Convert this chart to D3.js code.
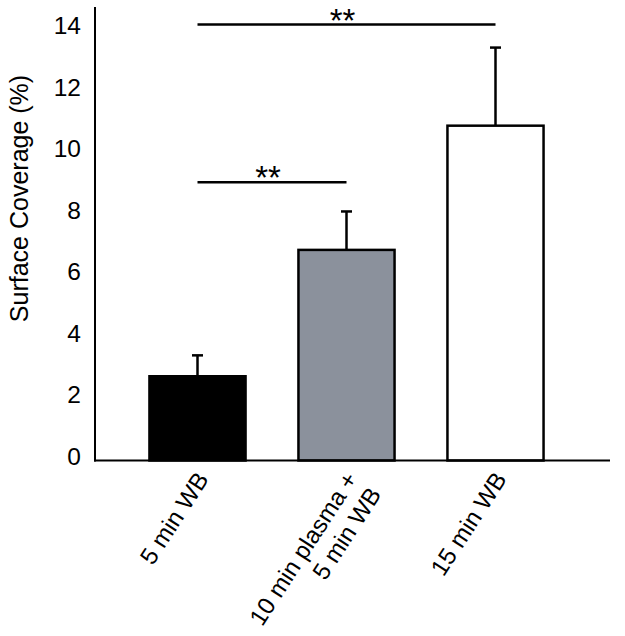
<!DOCTYPE html>
<html>
<head>
<meta charset="utf-8">
<script src="https://cdn.jsdelivr.net/npm/d3@7"></script>
<style>
  html, body { margin: 0; padding: 0; background: #fff; }
  svg { display: block; font-family: "Liberation Sans", Arial, sans-serif; }
</style>
</head>
<body>
<svg id="chart" width="625" height="636"></svg>
<script>
// ---- data ----
const categories = ["5 min WB", "10 min plasma +\n5 min WB", "15 min WB"];
const means = [2.74, 6.85, 10.89];
const errors = [0.68, 1.25, 2.54];
const yTicks = [0, 2, 4, 6, 8, 10, 12, 14];
const sigFrom = [0, 0];
const sigTo = [1, 2];
const sigLevel = [9.05, 14.18];
const sigLabel = ["**", "**"];
const barFills = ["#000000", "#8b919c", "#ffffff"];
const yTitle = "Surface Coverage (%)";

// ---- layout ----
const svg = d3.select("#chart");
const axisX0 = 95, axisX1 = 610, axisY0 = 460.5, axisTop = 7;

const x = d3.scaleBand()
  .domain(categories)
  .range([123, 570])
  .paddingInner(0.355)
  .paddingOuter(0.1775);

const y = d3.scaleLinear().domain([0, 14.75]).range([axisY0, axisTop]);

const cx = i => x(categories[i]) + x.bandwidth() / 2;

// bars
svg.append("g").selectAll("rect")
  .data(means)
  .join("rect")
  .attr("x", (d, i) => x(categories[i]))
  .attr("y", d => y(d))
  .attr("width", x.bandwidth())
  .attr("height", d => y(0) - y(d))
  .attr("fill", (d, i) => barFills[i])
  .attr("stroke", "#000")
  .attr("stroke-width", 2.5);

// error bars (upper only)
const eg = svg.append("g").attr("stroke", "#000").attr("stroke-width", 2.5);
means.forEach((m, i) => {
  const c = cx(i);
  eg.append("line").attr("x1", c).attr("x2", c).attr("y1", y(m)).attr("y2", y(m + errors[i]));
  eg.append("line").attr("x1", c - 5.5).attr("x2", c + 5.5).attr("y1", y(m + errors[i])).attr("y2", y(m + errors[i]));
});

// axes lines
svg.append("line").attr("x1", axisX0).attr("x2", axisX0).attr("y1", axisTop).attr("y2", axisY0 + 1)
  .attr("stroke", "#000").attr("stroke-width", 2);
svg.append("line").attr("x1", axisX0 - 1).attr("x2", axisX1).attr("y1", axisY0).attr("y2", axisY0)
  .attr("stroke", "#000").attr("stroke-width", 2);

// y tick labels
svg.append("g").selectAll("text")
  .data(yTicks)
  .join("text")
  .attr("x", 81)
  .attr("y", d => y(d) - 4.5)
  .attr("text-anchor", "end")
  .attr("dominant-baseline", "central")
  .attr("font-size", 24.5)
  .attr("fill", "#000")
  .text(d => d);

// y title
svg.append("text")
  .attr("transform", "translate(19,198.5) rotate(-90)")
  .attr("text-anchor", "middle")
  .attr("dominant-baseline", "central")
  .attr("font-size", 25)
  .attr("fill", "#000")
  .text(yTitle);

// category labels
const angle = -57, lineH = 28;
categories.forEach((cat, i) => {
  const g = svg.append("g")
    .attr("transform", `translate(${cx(i) + 12},479) rotate(${angle})`);
  cat.split("\n").forEach((line, k) => {
    g.append("text")
      .attr("x", 0)
      .attr("y", k * lineH)
      .attr("text-anchor", "end")
      .attr("font-size", 24)
      .attr("fill", "#000")
      .text(line);
  });
});

// significance brackets
const sg = svg.append("g");
sigLevel.forEach((lv, i) => {
  const xa = cx(sigFrom[i]), xb = cx(sigTo[i]);
  sg.append("line").attr("x1", xa).attr("x2", xb).attr("y1", y(lv)).attr("y2", y(lv))
    .attr("stroke", "#000").attr("stroke-width", 2.5);
  sg.append("text")
    .attr("x", (xa + xb) / 2 - 4)
    .attr("y", y(lv) + 7)
    .attr("text-anchor", "middle")
    .attr("font-size", 33)
    .attr("fill", "#000")
    .text(sigLabel[i]);
});
</script>
</body>
</html>
